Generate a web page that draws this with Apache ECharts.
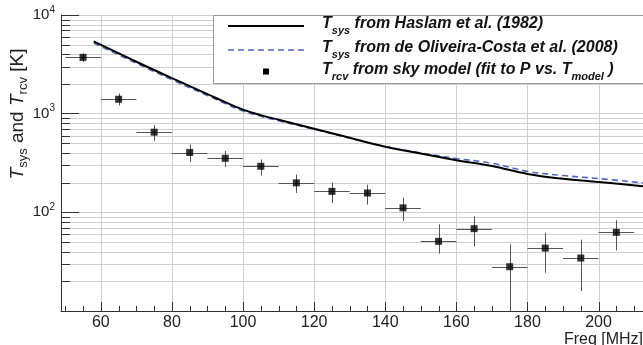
<!DOCTYPE html>
<html><head><meta charset="utf-8">
<script src="https://cdn.jsdelivr.net/npm/echarts@6/dist/echarts.min.js"></script>
<style>html,body{margin:0;padding:0;background:#fff}#c{width:643px;height:345px}</style>
</head><body><div id="c"></div>
<script>
// ---- data ----
const freq = [55,65,75,85,95,105,115,125,135,145,155,165,175,185,195,205];
const trcv = [3720,1400,649,404,353,293,199,163,157,111,50.8,68.3,28.1,43.4,34.4,62.7];
const trcvLo = [3340,1210,530,324,289,236,157,124,120,81.7,38.1,45.2,10,24.4,15.9,41.1];
const trcvHi = [4080,1600,764,486,419,343,242,200,191,141,75.5,91,47.3,62.2,52.8,83];
const binHalfWidth = 5;
const curveFreq = [58,70,80,90,95,100,105,110,120,130,140,150,160,170,180,190,200,212.5];
const haslam = [5400,3357,2290,1578,1309,1099,966,869,704,569,462,394,337,295,245,219,203,184];
const oliveira = [5200,3240,2210,1525,1265,1065,940,848,694,567,465,400,351,315,260,236,220,199];
const xLabelValues = [60,80,100,120,140,160,180,200];
const xTickValues = [50,55,60,65,70,75,80,85,90,95,100,105,110,115,120,125,130,135,140,145,150,155,160,165,170,175,180,185,190,195,200,205,210];
const yMinorValues = [20,30,40,50,60,70,80,90,200,300,400,500,600,700,800,900,2000,3000,4000,5000,6000,7000,8000,9000];
const X_MIN = 48.8, X_MAX = 212.5, Y_MIN = 10, Y_MAX = 10000;

const FONT = 'Liberation Sans, Arial, Helvetica, sans-serif';
const GRID_COLOR = '#cfcfcf';
const AXIS_COLOR = '#333';

const chart = echarts.init(document.getElementById('c'), null, {renderer: 'canvas'});
const px = v => Math.round(v) + 0.5;

const option = {
  animation: false,
  backgroundColor: '#fff',
  grid: {left: 61, right: 0, top: 15, bottom: 34, outerBoundsMode: 'none', containLabel: false},
  xAxis: {
    type: 'value', min: X_MIN, max: X_MAX,
    axisLine: {show: true, onZero: false, lineStyle: {color: AXIS_COLOR, width: 1}},
    axisTick: {show: false},
    splitLine: {show: false},
    axisLabel: {customValues: xLabelValues, fontSize: 16, color: '#222', fontFamily: FONT, margin: 4},
    name: 'Freq [MHz]', nameLocation: 'end', nameGap: 0, nameMoveOverlap: false,
    nameTextStyle: {align: 'right', verticalAlign: 'top', padding: [21, 0, 0, 0], fontSize: 16, color: '#222', fontFamily: FONT}
  },
  yAxis: {
    type: 'log', logBase: 10, min: Y_MIN, max: Y_MAX,
    axisLine: {show: true, lineStyle: {color: AXIS_COLOR, width: 1}},
    axisTick: {show: true, inside: true, length: 18, lineStyle: {color: AXIS_COLOR, width: 1}},
    splitLine: {show: true, lineStyle: {color: GRID_COLOR, width: 1}},
    axisLabel: {
      margin: 6, fontFamily: FONT, color: '#222',
      formatter: v => v <= Y_MIN ? '' : '{b|10}{s|' + Math.round(Math.log10(v)) + '}',
      rich: {
        b: {fontSize: 15, lineHeight: 20, fontFamily: FONT, color: '#222', verticalAlign: 'middle'},
        s: {fontSize: 10, lineHeight: 10, fontFamily: FONT, color: '#222', verticalAlign: 'top'}
      }
    }
  },
  series: [
    { // y minor gridlines and ticks
      type: 'custom', z: 1, silent: true, clip: false,
      data: yMinorValues.map(v => [X_MIN, v]),
      encode: {x: 0, y: 1},
      renderItem: (params, api) => {
        const cs = params.coordSys;
        const p = api.coord([api.value(0), api.value(1)]);
        const y = px(p[1]);
        return {type: 'group', children: [
          {type: 'line', shape: {x1: cs.x, y1: y, x2: cs.x + cs.width, y2: y}, style: {stroke: GRID_COLOR, lineWidth: 1}},
          {type: 'line', shape: {x1: cs.x, y1: y, x2: cs.x + 9, y2: y}, style: {stroke: AXIS_COLOR, lineWidth: 1}}
        ]};
      }
    },
    { // x gridlines and ticks
      type: 'custom', z: 1, silent: true, clip: false,
      data: xTickValues.map(v => [v, Y_MIN]),
      encode: {x: 0, y: 1},
      renderItem: (params, api) => {
        const cs = params.coordSys;
        const v = api.value(0);
        const p = api.coord([v, api.value(1)]);
        const x = px(p[0]);
        const major = xLabelValues.indexOf(v) >= 0;
        const children = [
          {type: 'line', shape: {x1: x, y1: cs.y + cs.height, x2: x, y2: cs.y + cs.height - (major ? 9 : 5)}, style: {stroke: AXIS_COLOR, lineWidth: 1}}
        ];
        if (major) {
          children.unshift({type: 'line', shape: {x1: x, y1: cs.y, x2: x, y2: cs.y + cs.height}, style: {stroke: GRID_COLOR, lineWidth: 1}});
        }
        return {type: 'group', children};
      }
    },
    {
      name: 'Tsys from de Oliveira-Costa et al. (2008)', type: 'line', z: 3,
      data: curveFreq.map((f, i) => [f, oliveira[i]]),
      showSymbol: false, smooth: 0.4,
      lineStyle: {color: '#4f66c4', width: 1.6, type: [6, 4]}
    },
    {
      name: 'Tsys from Haslam et al. (1982)', type: 'line', z: 4,
      data: curveFreq.map((f, i) => [f, haslam[i]]),
      showSymbol: false, smooth: 0.4,
      lineStyle: {color: '#000', width: 2}
    },
    { // error bars
      type: 'custom', z: 5, silent: true,
      data: freq.map((f, i) => [f, trcv[i], trcvLo[i], trcvHi[i]]),
      encode: {x: 0, y: [1, 2, 3]},
      renderItem: (params, api) => {
        const x = api.value(0), y = api.value(1);
        const a = api.coord([x - binHalfWidth, y]);
        const b = api.coord([x + binHalfWidth, y]);
        const lo = api.coord([x, api.value(2)]);
        const hi = api.coord([x, api.value(3)]);
        const st = {stroke: '#555', lineWidth: 1};
        return {type: 'group', children: [
          {type: 'line', shape: {x1: a[0], y1: px(a[1]), x2: b[0], y2: px(b[1])}, style: st},
          {type: 'line', shape: {x1: px(lo[0]), y1: lo[1], x2: px(hi[0]), y2: hi[1]}, style: st}
        ]};
      }
    },
    {
      name: 'Trcv from sky model', type: 'scatter', z: 6,
      data: freq.map((f, i) => [f, trcv[i]]),
      symbol: 'rect', symbolSize: 7,
      itemStyle: {color: '#000'}
    }
  ],
  graphic: [
    { // y-axis title
      type: 'text', z: 102, x: 18, y: 114, rotation: Math.PI / 2,
      style: {
        text: '{t|T}{sub|sys}{n| and }{t|T}{sub|rcv}{n| [K]}',
        textAlign: 'center', align: 'center', textVerticalAlign: 'middle', verticalAlign: 'middle',
        font: '19px ' + FONT, fill: '#222',
        rich: {
          t: {fontSize: 19, fontStyle: 'italic', lineHeight: 24, fontFamily: FONT, fill: '#222', verticalAlign: 'middle'},
          n: {fontSize: 19, lineHeight: 24, fontFamily: FONT, fill: '#222', verticalAlign: 'middle'},
          sub: {fontSize: 13, lineHeight: 13, fontFamily: FONT, fill: '#222', verticalAlign: 'bottom'}
        }
      }
    },
    {type: 'rect', z: 100, shape: {x: 213.5, y: 15.5, width: 440, height: 68}, style: {fill: '#fff', stroke: '#999', lineWidth: 1}},
    {type: 'line', z: 101, shape: {x1: 228, y1: 26, x2: 304, y2: 26}, style: {stroke: '#000', lineWidth: 2}},
    {type: 'line', z: 101, shape: {x1: 228, y1: 50, x2: 304, y2: 50}, style: {stroke: '#4f66c4', lineWidth: 1.6, lineDash: [6, 4]}},
    {type: 'rect', z: 101, shape: {x: 263, y: 68.5, width: 6, height: 6}, style: {fill: '#000'}},
    ...[
      {y: 24, text: '{t|T}{s|sys}{t| from Haslam et al. (1982)}'},
      {y: 48, text: '{t|T}{s|sys}{t| from de Oliveira-Costa et al. (2008)}'},
      {y: 70, text: '{t|T}{s|rcv}{t| from sky model (fit to P vs. T}{m|model}{t| )}'}
    ].map(r => ({
      type: 'text', z: 102, x: 322, y: r.y,
      style: {
        text: r.text, textVerticalAlign: 'middle', verticalAlign: 'middle',
        font: 'italic bold 16px ' + FONT, fill: '#111',
        rich: {
          t: {fontSize: 16, fontWeight: 'bold', fontStyle: 'italic', fontFamily: FONT, lineHeight: 24, verticalAlign: 'middle', fill: '#111'},
          s: {fontSize: 11, fontWeight: 'bold', fontStyle: 'italic', fontFamily: FONT, lineHeight: 11, verticalAlign: 'bottom', fill: '#111'},
          m: {fontSize: 11, fontWeight: 'bold', fontStyle: 'italic', fontFamily: FONT, lineHeight: 3, verticalAlign: 'bottom', fill: '#111'}
        }
      }
    }))
  ]
};
chart.setOption(option);
</script>
</body></html>
